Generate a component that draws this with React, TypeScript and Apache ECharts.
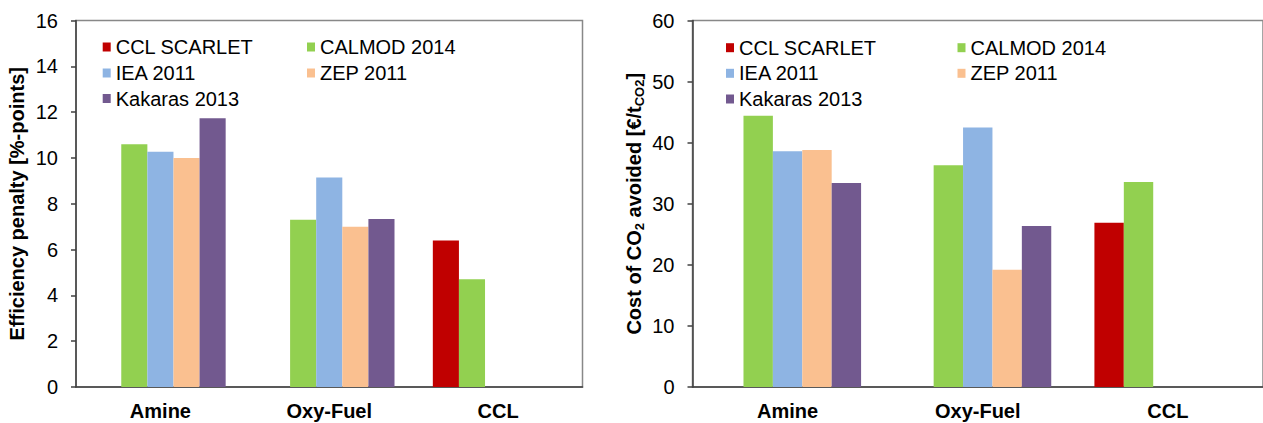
import React, { useEffect, useRef } from "react";
import * as echarts from "echarts";

const categories = ["Amine", "Oxy-Fuel", "CCL"];
const seriesNames = ["CCL SCARLET", "CALMOD 2014", "IEA 2011", "ZEP 2011", "Kakaras 2013"];
const seriesColors = ["#C00000", "#92D050", "#8EB4E3", "#FAC090", "#72598F"];

// Efficiency penalty [%-points]
const penaltyScarlet = [null, null, 6.4];
const penaltyCalmod = [10.6, 7.3, 4.7];
const penaltyIea = [10.27, 9.15, null];
const penaltyZep = [10.0, 7.0, null];
const penaltyKakaras = [11.73, 7.33, null];

// Cost of CO2 avoided [€/tCO2]
const costScarlet = [null, null, 26.9];
const costCalmod = [44.4, 36.3, 33.55];
const costIea = [38.6, 42.5, null];
const costZep = [38.8, 19.2, null];
const costKakaras = [33.4, 26.35, null];

const penaltyAxis = { min: 0, max: 16, interval: 2 };
const costAxis = { min: 0, max: 60, interval: 10 };

const FONT = '"Liberation Sans", Arial, sans-serif';

export default function App() {
  const ref = useRef<HTMLDivElement>(null);

  useEffect(() => {
    if (!ref.current) return;
    const chart = echarts.init(ref.current, undefined, { renderer: "svg" });

    const penaltyData = [penaltyScarlet, penaltyCalmod, penaltyIea, penaltyZep, penaltyKakaras];
    const costData = [costScarlet, costCalmod, costIea, costZep, costKakaras];

    const axisLineStyle = { color: "#404040", width: 1.5 };

    const yAxisBase = (gridIndex: number, ax: { min: number; max: number; interval: number }, name: string, rich?: any) => ({
      type: "value",
      gridIndex,
      min: ax.min,
      max: ax.max,
      interval: ax.interval,
      name,
      nameLocation: "middle",
      nameGap: 47,
      nameRotate: 90,
      nameTextStyle: {
        fontSize: 20,
        fontWeight: "bold",
        color: "#000",
        fontFamily: FONT,
        lineHeight: 24,
        rich,
      },
      axisLine: { show: true, lineStyle: axisLineStyle },
      axisTick: { show: true, length: 5, inside: false, lineStyle: axisLineStyle },
      splitLine: { show: false },
      axisLabel: { fontSize: 20, color: "#000", margin: 18, fontFamily: FONT },
    });

    const xAxisBase = (gridIndex: number) => ({
      type: "category",
      gridIndex,
      data: categories,
      axisLine: { show: true, lineStyle: axisLineStyle },
      axisTick: { show: false },
      axisLabel: { fontSize: 20, fontWeight: "bold", color: "#000", margin: 14, fontFamily: FONT },
    });

    const makeSeries = (data: (number | null)[][], idx: number) =>
      seriesNames.map((name, i) => ({
        type: "bar",
        name,
        xAxisIndex: idx,
        yAxisIndex: idx,
        data: data[i],
        itemStyle: { color: seriesColors[i] },
        barGap: "0%",
        barCategoryGap: "22.7%",
      }));

    const legendPos = (cols: number[], rows: number[]) => {
      const slots = [
        [cols[0], rows[0]],
        [cols[1], rows[0]],
        [cols[0], rows[1]],
        [cols[1], rows[1]],
        [cols[0], rows[2]],
      ];
      return seriesNames.map((name, i) => ({
        data: [name],
        left: slots[i][0],
        top: slots[i][1] - 10,
        padding: 0,
        orient: "horizontal",
        icon: "rect",
        itemWidth: 8,
        itemHeight: 9,
        selectedMode: false,
        textStyle: { fontSize: 20, color: "#000", fontFamily: FONT },
      }));
    };

    const option: any = {
      animation: false,
      color: seriesColors,
      textStyle: { fontFamily: FONT },
      grid: [
        { left: 76, top: 20.5, width: 506.5, height: 366.5, show: true, borderColor: "#888", borderWidth: 1.5 },
        { left: 692.5, top: 20.5, width: 572, height: 366.5, show: true, borderColor: "#888", borderWidth: 1.5 },
      ],
      xAxis: [xAxisBase(0), xAxisBase(1)],
      yAxis: [
        yAxisBase(0, penaltyAxis, "Efficiency penalty [%-points]"),
        yAxisBase(1, costAxis, "Cost of CO{s|2} avoided [€/t{s|CO2}]", {
          s: { fontSize: 13, fontWeight: "bold", color: "#000", fontFamily: FONT, lineHeight: 10, verticalAlign: "bottom" },
        }),
      ],
      legend: [
        ...legendPos([102.7, 307], [47, 73, 98.5]),
        ...legendPos([726, 957.5], [47.7, 73.3, 99]),
      ],
      series: [...makeSeries(penaltyData, 0), ...makeSeries(costData, 1)],
    };

    chart.setOption(option);
    return () => chart.dispose();
  }, []);

  return (
    <div
      ref={ref}
      style={{ position: "absolute", left: 0, top: 0, width: 1263, height: 423, background: "#fff" }}
    />
  );
}
